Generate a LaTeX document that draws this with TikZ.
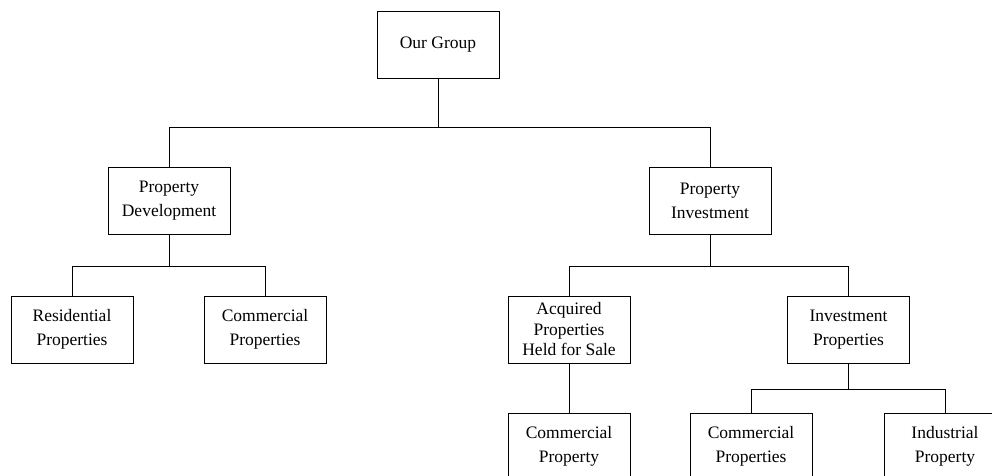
\documentclass[tikz,border=0pt]{standalone}
\usepackage{fontspec}
\setmainfont{Liberation Serif}
\begin{document}
\begin{tikzpicture}[x=1pt,y=-1pt,
  box/.style={draw, line width=1pt, rectangle, minimum width=122pt, minimum height=67pt, inner sep=0pt, align=center, font=\fontsize{17.5}{24}\selectfont},
  box3/.style={box, font=\fontsize{17.5}{20.5}\selectfont},
  conn/.style={line width=1pt}]
\useasboundingbox (0,0) rectangle (992,475);
\clip (0,0) rectangle (992,475);
\node[box] (g) at (438,45) {Our Group};
\node[box] (pd) at (169,200.5) {Property\\Development};
\node[box] (pi) at (710,200.5) {Property\\Investment};
\node[box] (res) at (72,329.5) {Residential\\Properties};
\node[box] (com1) at (265,329.5) {Commercial\\Properties};
\node[box3] (acq) at (569,329.5) {Acquired\\Properties\\Held for Sale};
\node[box] (inv) at (848.5,329.5) {Investment\\Properties};
\node[box] (cp) at (569,446.5) {Commercial\\Property};
\node[box] (cps) at (751,446.5) {Commercial\\Properties};
\node[box] (ind) at (945,446.5) {Industrial\\Property};
\coordinate (b1) at (438,127);
\coordinate (b2) at (169,266);
\coordinate (b3) at (710,266);
\coordinate (b4) at (848.5,389);
\draw[conn] (g.south) -- (b1);
\draw[conn] (b1) -| (pd.north);
\draw[conn] (b1) -| (pi.north);
\draw[conn] (pd.south) -- (b2);
\draw[conn] (b2) -| (res.north);
\draw[conn] (b2) -| (com1.north);
\draw[conn] (pi.south) -- (b3);
\draw[conn] (b3) -| (acq.north);
\draw[conn] (b3) -| (inv.north);
\draw[conn] (acq.south) -- (cp.north);
\draw[conn] (inv.south) -- (b4);
\draw[conn] (b4) -| (cps.north);
\draw[conn] (b4) -| (ind.north);
\end{tikzpicture}
\end{document}
